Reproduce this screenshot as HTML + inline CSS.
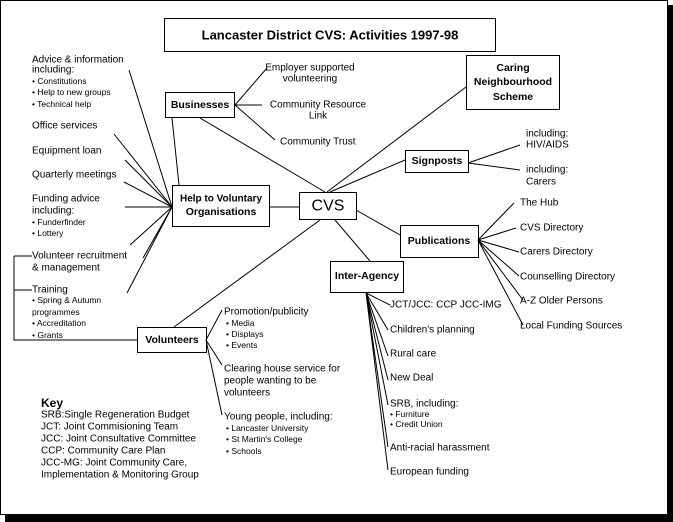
<!DOCTYPE html>
<html><head><meta charset="utf-8"><style>
html,body{margin:0;padding:0;background:#fff;}
svg{display:block;font-family:"Liberation Sans",sans-serif;}
text{dominant-baseline:central;fill:#000;}
.s{font-size:10px;}
.xs{font-size:8.5px;}
.b{font-size:10.5px;font-weight:bold;}
</style></head><body>
<svg width="673" height="522" viewBox="0 0 673 522" xmlns="http://www.w3.org/2000/svg">
<rect x="0" y="0" width="673" height="522" fill="#fff"/>
<rect x="5" y="515" width="668" height="7" fill="#000"/>
<rect x="667" y="5" width="6" height="517" fill="#000"/>
<rect x="0.5" y="0.5" width="667" height="514" fill="none" stroke="#000"/>
<g fill="#fff" stroke="#000" stroke-width="1">
<rect x="164.5" y="18.5" width="331" height="33"/>
<rect x="165.5" y="92.5" width="69" height="25"/>
<rect x="172.5" y="185.5" width="97" height="41"/>
<rect x="299.5" y="192.5" width="57" height="27"/>
<rect x="466.5" y="55.5" width="93" height="54"/>
<rect x="405.5" y="150.5" width="63" height="22"/>
<rect x="400.5" y="225.5" width="78" height="32"/>
<rect x="330.5" y="261.5" width="73" height="31"/>
<rect x="137.5" y="327.5" width="69" height="25"/>
</g>
<g stroke="#000" stroke-width="1" fill="none">
<path d="M172 207L129 70M172 207L114 134M172 207L125 160M172 207L124 182M172 207L125 207M172 207L130 245M172 207L143 258M172 207L127 293"/>
<path d="M172 118L179 185M200 118L325 192M269 207L299 207M327 192L466 87M330 192L405 160M356 210L400 235M335 220L370 261M320 220L174 327"/>
<path d="M235 105L267 68M235 105L262 105M235 105L275 140"/>
<path d="M468 163L520 145M468 163L520 170"/>
<path d="M478 240L514 203M478 240L516 228M478 240L519 252M478 240L519 276M478 240L523 300M478 240L523 325"/>
<path d="M366 293L390 305M366 293L388 330M366 293L388 356M366 293L388 380M366 293L388 405M366 293L388 447M366 293L388 470"/>
<path d="M206 340L222 310M206 340L222 365M206 340L222 415"/>
<path d="M14 256L14 340L137 340M14 256L32 256M14 290L32 290"/>
</g>
<text x="330" y="35" text-anchor="middle" style="font-size:13px;font-weight:bold">Lancaster District CVS: Activities 1997-98</text>
<text x="200" y="105" text-anchor="middle" class="b">Businesses</text>
<text x="221" y="199" text-anchor="middle" class="b" style="font-size:10px">Help to Voluntary</text>
<text x="221" y="212" text-anchor="middle" class="b">Organisations</text>
<text x="328" y="206" text-anchor="middle" style="font-size:16px">CVS</text>
<text x="513" y="68" text-anchor="middle" class="b">Caring</text>
<text x="513" y="82" text-anchor="middle" class="b">Neighbourhood</text>
<text x="513" y="97" text-anchor="middle" class="b">Scheme</text>
<text x="437" y="161" text-anchor="middle" class="b">Signposts</text>
<text x="439" y="241" text-anchor="middle" class="b">Publications</text>
<text x="367" y="276" text-anchor="middle" class="b">Inter-Agency</text>
<text x="172" y="340" text-anchor="middle" class="b">Volunteers</text>
<g class="s">
<text x="310" y="68" text-anchor="middle">Employer supported</text>
<text x="310" y="79" text-anchor="middle">volunteering</text>
<text x="318" y="105" text-anchor="middle">Community Resource</text>
<text x="318" y="116" text-anchor="middle">Link</text>
<text x="280" y="142">Community Trust</text>
<text x="526" y="134">including:</text>
<text x="526" y="145">HIV/AIDS</text>
<text x="526" y="170">including:</text>
<text x="526" y="182">Carers</text>
<text x="520" y="203">The Hub</text>
<text x="520" y="228">CVS Directory</text>
<text x="520" y="252">Carers Directory</text>
<text x="520" y="277">Counselling Directory</text>
<text x="520" y="301">A-Z Older Persons</text>
<text x="520" y="326">Local Funding Sources</text>
<text x="390" y="305">JCT/JCC: CCP JCC-IMG</text>
<text x="390" y="330">Children's planning</text>
<text x="390" y="354">Rural care</text>
<text x="390" y="378">New Deal</text>
<text x="390" y="404">SRB, including:</text>
<text x="390" y="414" class="xs">• Furniture</text>
<text x="390" y="424" class="xs">• Credit Union</text>
<text x="390" y="448">Anti-racial harassment</text>
<text x="390" y="472">European funding</text>
<text x="224" y="312">Promotion/publicity</text>
<text x="226" y="323" class="xs">• Media</text>
<text x="226" y="334" class="xs">• Displays</text>
<text x="226" y="345" class="xs">• Events</text>
<text x="224" y="369">Clearing house service for</text>
<text x="224" y="381">people wanting to be</text>
<text x="224" y="393">volunteers</text>
<text x="224" y="417">Young people, including:</text>
<text x="226" y="428" class="xs">• Lancaster University</text>
<text x="226" y="439" class="xs">• St Martin's College</text>
<text x="226" y="451" class="xs">• Schools</text>
<text x="41" y="403" style="font-size:12px;font-weight:bold">Key</text>
<text x="41" y="415">SRB:Single Regeneration Budget</text>
<text x="41" y="427">JCT: Joint Commisioning Team</text>
<text x="41" y="439">JCC: Joint Consultative Committee</text>
<text x="41" y="451">CCP: Community Care Plan</text>
<text x="41" y="463">JCC-MG: Joint Community Care,</text>
<text x="41" y="475">Implementation &amp; Monitoring Group</text>
<text x="32" y="60">Advice &amp; information</text>
<text x="32" y="70">including:</text>
<text x="32" y="81" class="xs">• Constitutions</text>
<text x="32" y="92" class="xs">• Help to new groups</text>
<text x="32" y="104" class="xs">• Technical help</text>
<text x="32" y="126">Office services</text>
<text x="32" y="151">Equipment loan</text>
<text x="32" y="175">Quarterly meetings</text>
<text x="32" y="199">Funding advice</text>
<text x="32" y="211">including:</text>
<text x="32" y="222" class="xs">• Funderfinder</text>
<text x="32" y="233" class="xs">• Lottery</text>
<text x="32" y="256">Volunteer recruitment</text>
<text x="32" y="268">&amp; management</text>
<text x="32" y="290">Training</text>
<text x="32" y="300" class="xs">• Spring &amp; Autumn</text>
<text x="32" y="312" class="xs">programmes</text>
<text x="32" y="323" class="xs">• Accreditation</text>
<text x="32" y="335" class="xs">• Grants</text>
</g>
</svg>
</body></html>
